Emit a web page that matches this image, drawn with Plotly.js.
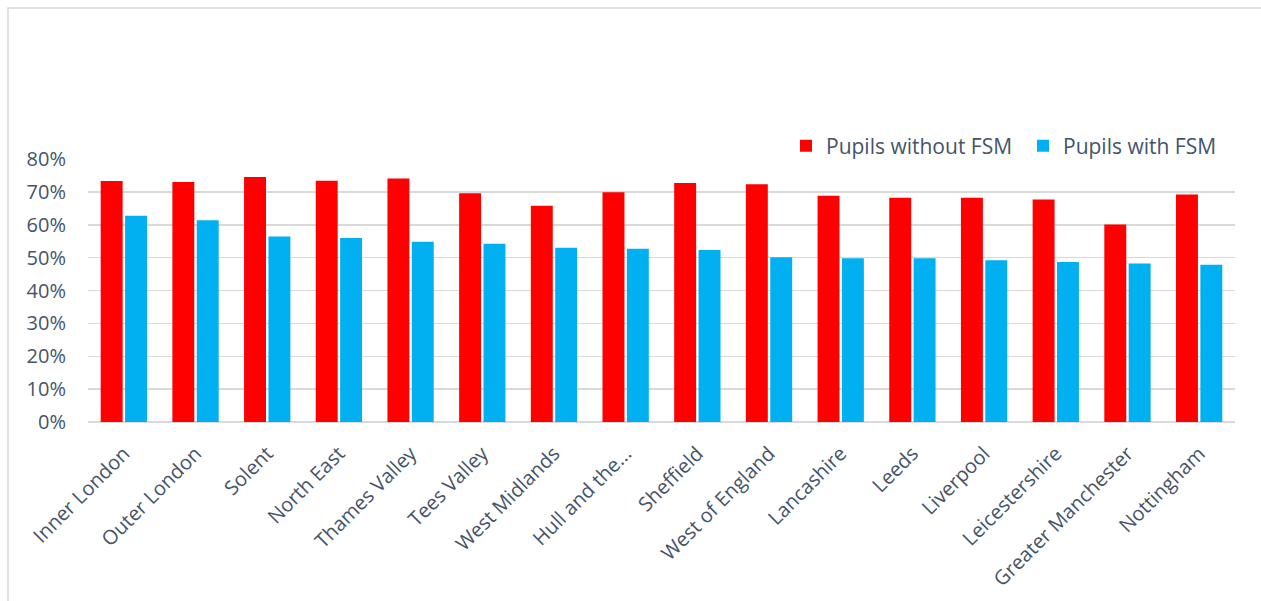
<!DOCTYPE html>
<html>
<head>
<meta charset="utf-8">
<script src="https://cdn.plot.ly/plotly-3.0.1.min.js"></script>
<style>
  html, body { margin: 0; padding: 0; background: #ffffff; }
  #chart { width: 1261px; height: 601px; }
</style>
</head>
<body>
<div id="chart"></div>
<script>
const categories = ["Inner London", "Outer London", "Solent", "North East", "Thames Valley", "Tees Valley",
  "West Midlands", "Hull and the...", "Sheffield", "West of England", "Lancashire", "Leeds",
  "Liverpool", "Leicestershire", "Greater Manchester", "Nottingham"];
const withoutFSM = [0.733, 0.730, 0.745, 0.734, 0.741, 0.696, 0.658, 0.699, 0.727, 0.723, 0.688, 0.682, 0.682, 0.677, 0.601, 0.692];
const withFSM =    [0.627, 0.614, 0.564, 0.560, 0.548, 0.542, 0.530, 0.527, 0.523, 0.501, 0.498, 0.498, 0.492, 0.487, 0.482, 0.478];
const yTickVals = [0, 0.1, 0.2, 0.3, 0.4, 0.5, 0.6, 0.7, 0.8];

const textColor = "#44546A";
const gridColor = "#D9D9D9";

const traces = [
  { type: "bar", name: "Pupils without FSM", x: categories, y: withoutFSM,
    marker: { color: "#FF0000" }, hoverinfo: "x+y", legend: "legend" },
  { type: "bar", name: "Pupils with FSM", x: categories, y: withFSM,
    marker: { color: "#00B0F0" }, hoverinfo: "x+y", legend: "legend2" }
];

const W = 1261, H = 601;
const mL = 88, mR = 26, mT = 159, mB = 179;
const pw = W - mL - mR, ph = H - mT - mB;
function px2x(p) { return (p - mL) / pw; }
function px2y(p) { return (H - mB - p) / ph; }

const legendFont = { family: "Open Sans, sans-serif", size: 21, color: textColor };
const layout = {
  width: W, height: H,
  margin: { l: mL, r: mR, t: mT, b: mB, pad: 0 },
  paper_bgcolor: "#ffffff", plot_bgcolor: "#ffffff",
  font: { family: "Open Sans, sans-serif", size: 20, color: textColor },
  barmode: "group", bargap: 0.32, bargroupgap: 0.1,
  showlegend: true,
  legend: {
    orientation: "h", x: px2x(786), y: px2y(146), xanchor: "left", yanchor: "middle",
    font: legendFont, bgcolor: "rgba(0,0,0,0)", itemwidth: 30
  },
  legend2: {
    orientation: "h", x: px2x(1023), y: px2y(146), xanchor: "left", yanchor: "middle",
    font: legendFont, bgcolor: "rgba(0,0,0,0)", itemwidth: 30
  },
  xaxis: {
    type: "category", tickangle: -45, showgrid: false, showline: false, zeroline: false,
    ticks: "", tickfont: { size: 20, color: textColor }, automargin: false, fixedrange: true,
    ticklabelstandoff: 15
  },
  yaxis: {
    range: [0, 0.8], tickvals: yTickVals, tickformat: ".0%", showgrid: true,
    gridcolor: gridColor, gridwidth: 1.5, zeroline: true, zerolinecolor: gridColor, zerolinewidth: 1.5,
    showline: false, ticks: "", ticklen: 0, tickfont: { size: 20, color: textColor },
    automargin: false, fixedrange: true, ticklabelstandoff: 21
  },
  shapes: [
    { type: "rect", xref: "paper", yref: "paper",
      x0: px2x(8), x1: px2x(1290), y0: px2y(630), y1: px2y(8),
      line: { color: "#D9D9D9", width: 1.5 }, fillcolor: "rgba(0,0,0,0)", layer: "below" }
  ]
};

Plotly.newPlot("chart", traces, layout, { displayModeBar: false, staticPlot: true });
</script>
</body>
</html>
